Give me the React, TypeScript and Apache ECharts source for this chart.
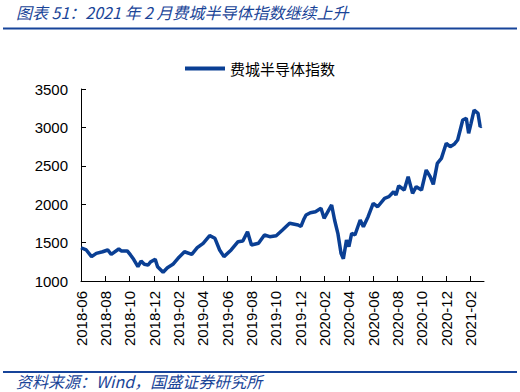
import React, { useEffect, useRef } from "react";
import * as echarts from "echarts";

const titleText = "图表 51：2021 年 2 月费城半导体指数继续上升";
const sourceText = "资料来源：Wind，国盛证券研究所";
const seriesName = "费城半导体指数";

const dates: string[] = [
  "2018-06-01", "2018-06-14", "2018-06-27", "2018-07-09", "2018-07-25", "2018-08-07",
  "2018-08-16", "2018-09-04", "2018-09-10", "2018-09-25", "2018-10-03", "2018-10-11",
  "2018-10-22", "2018-10-30", "2018-11-07", "2018-11-16", "2018-11-23", "2018-12-04",
  "2018-12-10", "2018-12-24", "2019-01-04", "2019-01-18", "2019-01-31", "2019-02-15",
  "2019-03-04", "2019-03-18", "2019-04-02", "2019-04-18", "2019-05-01", "2019-05-13",
  "2019-05-24", "2019-06-11", "2019-06-28", "2019-07-10", "2019-07-22", "2019-08-01",
  "2019-08-19", "2019-09-03", "2019-09-16", "2019-10-02", "2019-10-18", "2019-11-05",
  "2019-11-26", "2019-12-03", "2019-12-10", "2019-12-16", "2019-12-27", "2020-01-09",
  "2020-01-23", "2020-01-31", "2020-02-18", "2020-02-25", "2020-03-04", "2020-03-12",
  "2020-03-18", "2020-03-26", "2020-04-01", "2020-04-08", "2020-04-16", "2020-04-29",
  "2020-05-07", "2020-05-19", "2020-06-01", "2020-06-12", "2020-06-29", "2020-07-10",
  "2020-07-22", "2020-07-28", "2020-08-04", "2020-08-18", "2020-08-28", "2020-09-08",
  "2020-09-17", "2020-09-30", "2020-10-12", "2020-10-22", "2020-10-30", "2020-11-09",
  "2020-11-19", "2020-12-01", "2020-12-11", "2020-12-21", "2020-12-30", "2021-01-12",
  "2021-01-21", "2021-01-27", "2021-02-02", "2021-02-09", "2021-02-18", "2021-02-23",
  "2021-02-26",
];

const values: number[] = [
  1433, 1404, 1317, 1360, 1381, 1404,
  1347, 1417, 1391, 1391, 1339, 1282,
  1186, 1260, 1217, 1208, 1251, 1282,
  1186, 1113, 1173, 1217, 1295, 1381,
  1347, 1434, 1491, 1590, 1556, 1404,
  1317, 1404, 1512, 1521, 1642, 1469,
  1491, 1599, 1577, 1590, 1664, 1751,
  1729, 1710, 1800, 1859, 1889, 1902,
  1946, 1816, 1990, 1794, 1621, 1360,
  1290, 1534, 1447, 1621, 1599, 1794,
  1707, 1837, 2011, 1967, 2077, 2098,
  2163, 2120, 2240, 2185, 2358, 2141,
  2228, 2185, 2445, 2358, 2259, 2532,
  2597, 2793, 2749, 2780, 2836, 3096,
  3118, 2923, 3053, 3226, 3183, 3009,
  3020,
];

const yTicks: number[] = [1000, 1500, 2000, 2500, 3000, 3500];
const xTickLabels: string[] = [
  "2018-06", "2018-08", "2018-10", "2018-12", "2019-02", "2019-04", "2019-06",
  "2019-08", "2019-10", "2019-12", "2020-02", "2020-04", "2020-06", "2020-08",
  "2020-10", "2020-12", "2021-02",
];

const BASE_YEAR = 2018;
const BASE_MONTH = 6;

function monthIndex(d: string): number {
  const [y, m, day] = d.split("-").map(Number);
  const dim = new Date(y, m, 0).getDate();
  return (y - BASE_YEAR) * 12 + (m - BASE_MONTH) + (day - 1) / dim;
}

const xTickValues = xTickLabels.map((l) => monthIndex(l + "-01"));

export default function App() {
  const ref = useRef<HTMLDivElement>(null);
  useEffect(() => {
    document.body.style.margin = "0";
    if (!ref.current) return;
    const chart = echarts.init(ref.current, null, { renderer: "svg" });
    const blue = "#0a3f94";
    const textBlue = "#1a4598";
    chart.setOption({
      animation: false,
      backgroundColor: "#ffffff",
      grid: { left: 81, right: 36, top: 89, bottom: 111 },
      legend: {
        top: 56,
        left: "center",
        icon: "rect",
        itemWidth: 40,
        itemHeight: 4,
        itemGap: 10,
        textStyle: { fontSize: 15, color: "#000", fontFamily: "Noto Sans CJK SC" },
        data: [seriesName],
      },
      xAxis: {
        type: "value",
        min: 0,
        max: 33.1,
        splitLine: { show: false },
        axisLine: { show: true, lineStyle: { color: "#000", width: 1 } },
        axisTick: {
          show: true,
          inside: true,
          length: 5,
          customValues: xTickValues,
          lineStyle: { color: "#000" },
        },
        axisLabel: {
          rotate: 90,
          margin: 10,
          fontSize: 15,
          color: "#000",
          fontFamily: "Liberation Sans",
          customValues: xTickValues,
          formatter: (v: number) => {
            const i = xTickValues.findIndex((t) => Math.abs(t - v) < 1e-6);
            return i >= 0 ? xTickLabels[i] : "";
          },
        },
      },
      yAxis: {
        type: "value",
        min: yTicks[0],
        max: yTicks[yTicks.length - 1],
        interval: 500,
        splitLine: { show: false },
        axisLine: { show: true, lineStyle: { color: "#000", width: 1 } },
        axisTick: { show: true, inside: true, length: 5, lineStyle: { color: "#000" } },
        axisLabel: {
          margin: 13,
          fontSize: 15,
          color: "#000",
          fontFamily: "Liberation Sans",
          formatter: (v: number) => String(v),
        },
      },
      series: [
        {
          name: seriesName,
          type: "line",
          showSymbol: false,
          symbol: "none",
          lineStyle: { color: blue, width: 3.5 },
          itemStyle: { color: blue },
          data: dates.map((d, i) => [monthIndex(d), values[i]]),
        },
      ],
      graphic: [
        {
          type: "text",
          left: 16,
          top: 4,
          style: {
            text: titleText,
            fontSize: 16,
            fontStyle: "italic",
            fontFamily: "Noto Sans CJK SC",
            fill: textBlue,
          },
        },
        {
          type: "line",
          shape: { x1: 3, y1: 28.5, x2: 517, y2: 28.5 },
          style: { stroke: "#17449a", lineWidth: 2 },
        },
        {
          type: "line",
          shape: { x1: 3, y1: 372, x2: 517, y2: 372 },
          style: { stroke: "#17449a", lineWidth: 2 },
        },
        {
          type: "text",
          left: 16,
          top: 373,
          style: {
            text: sourceText,
            fontSize: 16,
            fontStyle: "italic",
            fontFamily: "Noto Sans CJK SC",
            fill: textBlue,
          },
        },
      ],
    });
    return () => chart.dispose();
  }, []);
  return (
    <div
      ref={ref}
      style={{ position: "absolute", left: 0, top: 0, width: 520, height: 392 }}
    />
  );
}
